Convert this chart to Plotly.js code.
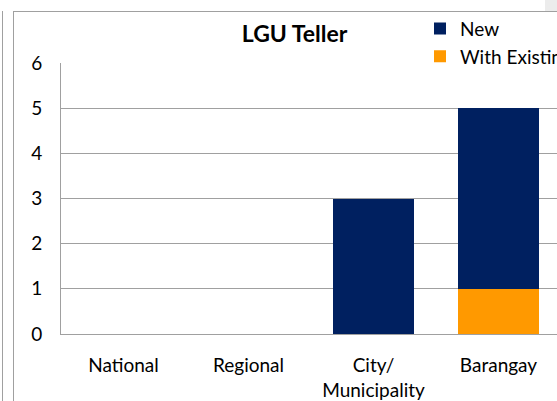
<!DOCTYPE html>
<html>
<head>
<meta charset="utf-8">
<script src="https://cdn.plot.ly/plotly-3.0.1.min.js"></script>
<style>
  html, body { margin: 0; padding: 0; background: #ffffff; overflow: hidden; width: 557px; height: 401px; }
  #chart { position: absolute; left: 0; top: 0; }
  .frame { position: absolute; background: #a0a0a0; }
</style>
</head>
<body>
<div id="chart"></div>
<!-- sheet frame around the embedded chart -->
<div class="frame" style="left:2px; top:11px; width:1px; height:390px;"></div>
<div class="frame" style="left:13px; top:11px; width:1px; height:390px;"></div>
<div class="frame" style="left:13px; top:11px; width:544px; height:1px;"></div>
<div style="position:absolute; left:545px; top:0; width:12px; height:11px; background:#ececec;"></div>
<script>
/* LGU Teller - stacked column chart */

const categories = ['National', 'Regional', 'City/<br>Municipality', 'Barangay'];
const newValues = [0, 0, 3, 4];
const existingValues = [0, 0, 0, 1];

const FONT = 'Lato, "Open Sans", sans-serif';

// first trace sits at the bottom of each stack
const existingTrace = {
  name: 'With Existing',
  type: 'bar',
  x: categories,
  y: existingValues,
  marker: { color: '#ff9900' },
  hoverinfo: 'x+y+name',
};

const newTrace = {
  name: 'New',
  type: 'bar',
  x: categories,
  y: newValues,
  marker: { color: '#002060' },
  hoverinfo: 'x+y+name',
};

const layout = {
  width: 600, // plot area runs past the right edge of the window, as in the screenshot
  height: 401,
  margin: { l: 61, r: 39, t: 63, b: 67, autoexpand: false },
  paper_bgcolor: 'rgba(0,0,0,0)',
  plot_bgcolor: '#ffffff',
  barmode: 'stack',
  bargap: 0.35,
  font: { family: FONT, size: 19, color: '#000000' },
  title: {
    text: '<b>LGU Teller</b>',
    font: { family: FONT, size: 23, color: '#000000' },
    xref: 'container',
    x: 0.491,
    xanchor: 'center',
    yref: 'container',
    y: 0.915,
    yanchor: 'middle',
  },
  showlegend: true,
  legend: {
    xref: 'container',
    x: 0.7,
    xanchor: 'left',
    yref: 'container',
    y: 0.976,
    yanchor: 'top',
    bgcolor: 'rgba(0,0,0,0)',
    font: { family: FONT, size: 19, color: '#000000' },
  },
  xaxis: {
    type: 'category',
    showgrid: false,
    showline: true,
    linecolor: '#a0a0a0',
    linewidth: 1,
    ticks: '',
    ticklabelstandoff: 14,
    fixedrange: true,
  },
  yaxis: {
    range: [0, 6],
    dtick: 1,
    showgrid: true,
    gridcolor: '#a0a0a0',
    gridwidth: 1,
    zeroline: false,
    showline: true,
    linecolor: '#a0a0a0',
    linewidth: 1,
    ticks: '',
    ticklabelstandoff: 14,
    fixedrange: true,
  },
};

Plotly.newPlot('chart', [existingTrace, newTrace], layout, { displayModeBar: false, staticPlot: true });
</script>
</body>
</html>
